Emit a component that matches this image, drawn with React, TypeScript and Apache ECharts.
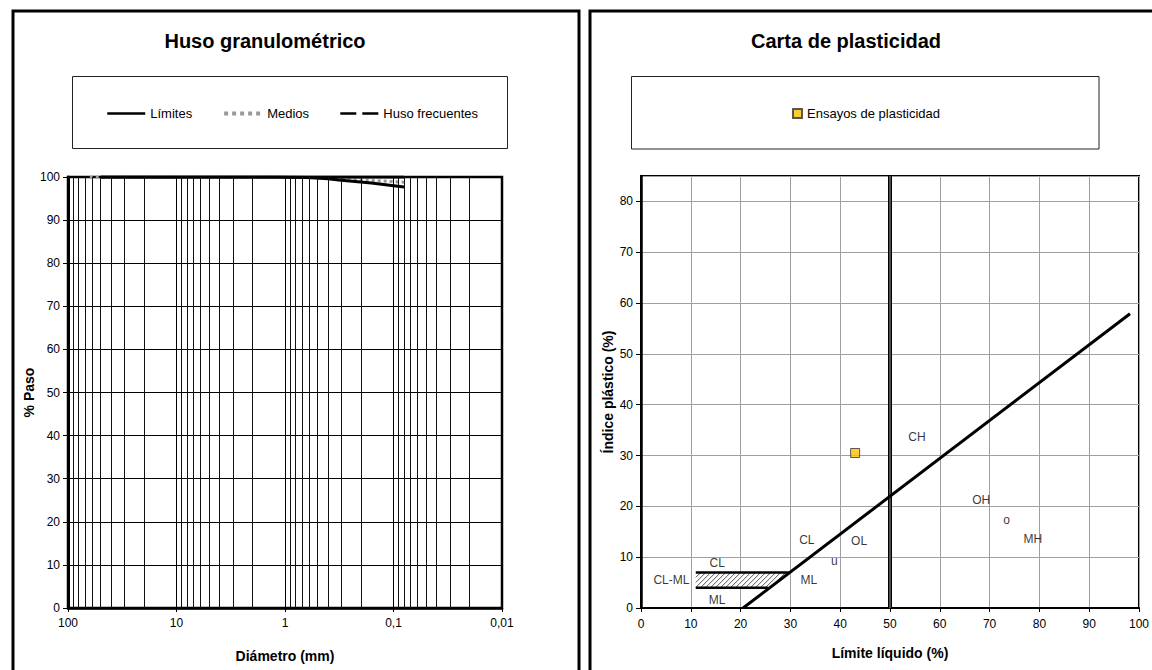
import React, { useEffect, useRef } from 'react';
import * as echarts from 'echarts';

// ---------- Huso granulométrico ----------
const sieveSizes = [63, 50, 40, 25, 20, 12.5, 10, 5, 2, 1.25, 0.63, 0.4, 0.32, 0.16, 0.08];
const limiteInferior = [null, 100, 100, 100, 100, 100, 100, 100, 100, 100, 99.9, 99.6, 99.3, 98.6, 97.7];
const limiteSuperior = [null, 100, 100, 100, 100, 100, 100, 100, 100, 100, 100, 100, 100, 100, 100];
const medios = [100, 100, 100, 100, 100, 100, 100, 100, 100, 100, 99.9, 99.8, 99.6, 99.2, 98.8];
const husoFrecuentes: number[][] = [];
const diamTickLabels: Record<string, string> = { '2': '100', '1': '10', '0': '1', '-1': '0,1', '-2': '0,01' };
const decades = [0.01, 0.1, 1, 10];
const minorMultipliers = [2, 3, 4, 5, 6, 7, 8, 9];

// ---------- Carta de plasticidad ----------
const ensayoLL = [43];
const ensayoIP = [30.5];
const lineaA = [[20.5, 0], [98.2, 57.9]];
const limiteLL50 = [[50, 0], [50, 85]];
const clmlSuperior = [[11, 7], [29.7, 7]];
const clmlInferior = [[11, 4], [25.5, 4]];
const clmlZona = [[11, 4], [25.5, 4], [29.7, 7], [11, 7]];
const zonaNombres = ['CL', 'CL-ML', 'ML', 'ML', 'u', 'CL', 'OL', 'CH', 'OH', 'o', 'MH'];
const zonaLL = [15.3, 6.1, 15.3, 33.7, 38.8, 33.3, 43.8, 55.4, 68.3, 73.4, 78.7];
const zonaIP = [8.9, 5.6, 1.5, 5.6, 9.3, 13.3, 13.1, 33.7, 21.3, 17.4, 13.6];

const FONT = '"Liberation Sans", Arial, sans-serif';

function hatchRenderItem(params: any, api: any) {
  const pts = clmlZona.map((p) => api.coord(p));
  const children: any[] = [
    { type: 'polygon', shape: { points: pts }, style: { fill: '#fff', stroke: 'none' } },
  ];
  const xs = pts.map((p: number[]) => p[0]);
  const ys = pts.map((p: number[]) => p[1]);
  const yT = Math.min(...ys), yB = Math.max(...ys);
  const xMin = Math.min(...xs), xMax = Math.max(...xs);
  const cx = xs.reduce((a: number, b: number) => a + b, 0) / xs.length;
  const cy = ys.reduce((a: number, b: number) => a + b, 0) / ys.length;
  const edges = pts.map((P: number[], i: number) => {
    const Q = pts[(i + 1) % pts.length];
    const f = (X: number, Y: number) => (Q[0] - P[0]) * (Y - P[1]) - (Q[1] - P[1]) * (X - P[0]);
    const s = Math.sign(f(cx, cy)) || 1;
    return (X: number, Y: number) => s * f(X, Y);
  });
  for (let c = xMin + yT; c <= xMax + yB; c += 5) {
    const ax = c - yB, ay = yB, bx = c - yT, by = yT;
    let t0 = 0, t1 = 1, ok = true;
    for (const g of edges) {
      const fa = g(ax, ay), fb = g(bx, by);
      if (fa < 0 && fb < 0) { ok = false; break; }
      if (fa < 0) t0 = Math.max(t0, fa / (fa - fb));
      else if (fb < 0) t1 = Math.min(t1, fa / (fa - fb));
    }
    if (!ok || t1 <= t0) continue;
    children.push({
      type: 'line',
      shape: {
        x1: ax + (bx - ax) * t0, y1: ay + (by - ay) * t0,
        x2: ax + (bx - ax) * t1, y2: ay + (by - ay) * t1,
      },
      style: { stroke: '#555', lineWidth: 1 },
    });
  }
  return { type: 'group', children };
}

export default function App() {
  const ref = useRef<HTMLDivElement>(null);
  useEffect(() => {
    if (!ref.current) return;
    const chart = echarts.init(ref.current, null, { renderer: 'svg' });
    const minorPositions: number[] = [];
    decades.forEach((d) => minorMultipliers.forEach((m) => minorPositions.push(d * m)));
    const pair = (xs: number[], ys: (number | null)[]) => xs.map((x, i) => [x, ys[i]]);

    const axisLabelStyle = { color: '#000', fontSize: 12, fontFamily: FONT };
    const nameStyle = { color: '#000', fontSize: 14, fontWeight: 'bold' as const, fontFamily: FONT };

    chart.setOption({
      animation: false,
      backgroundColor: '#fff',
      textStyle: { fontFamily: FONT },
      graphic: [
        { type: 'rect', silent: true, shape: { x: 13, y: 11, width: 566, height: 700 }, style: { fill: 'none', stroke: '#000', lineWidth: 3 } },
        { type: 'rect', silent: true, shape: { x: 590, y: 11, width: 600, height: 700 }, style: { fill: 'none', stroke: '#000', lineWidth: 3 } },
        { type: 'rect', silent: true, shape: { x: 72.5, y: 76.5, width: 435, height: 72 }, style: { fill: 'none', stroke: '#222', lineWidth: 1 } },
        { type: 'rect', silent: true, shape: { x: 631.5, y: 76.5, width: 467.5, height: 72.5 }, style: { fill: 'none', stroke: '#222', lineWidth: 1 } },
        { type: 'text', silent: true, x: 265, y: 41, style: { text: 'Huso granulométrico', fill: '#000', font: `bold 20px ${FONT}`, align: 'center', verticalAlign: 'middle' } },
        { type: 'text', silent: true, x: 846, y: 41, style: { text: 'Carta de plasticidad', fill: '#000', font: `bold 20px ${FONT}`, align: 'center', verticalAlign: 'middle' } },
      ],
      legend: [
        {
          data: [
            { name: 'Límites', lineStyle: { width: 2.5 } },
            { name: 'Medios', lineStyle: { width: 4 } },
            { name: 'Huso frecuentes', lineStyle: { width: 2.5 } },
          ],
          left: 101, top: 102, itemWidth: 38, itemHeight: 14, itemGap: 30,
          selectedMode: false,
          itemStyle: { color: 'rgba(0,0,0,0)', borderWidth: 0, opacity: 0 },
          textStyle: { color: '#000', fontSize: 13, fontFamily: FONT },
        },
        {
          data: ['Ensayos de plasticidad'],
          left: 787, top: 102, itemWidth: 9, itemHeight: 9,
          selectedMode: false,
          textStyle: { color: '#000', fontSize: 13, fontFamily: FONT },
        },
      ],
      grid: [
        { left: 68, top: 177, width: 434, height: 431, show: true, borderColor: '#000', borderWidth: 2.5, backgroundColor: '#fff' },
        { left: 641, top: 176, width: 502, height: 432, show: true, borderColor: '#000', borderWidth: 2, backgroundColor: '#fff' },
      ],
      xAxis: [
        {
          gridIndex: 0, type: 'log', logBase: 10, min: 0.01, max: 100, inverse: true,
          name: 'Diámetro (mm)', nameLocation: 'middle', nameGap: 41, nameTextStyle: nameStyle,
          axisLine: { show: true, lineStyle: { color: '#000', width: 2.5 } },
          axisTick: { show: true, length: 4, lineStyle: { color: '#000' } },
          axisLabel: {
            ...axisLabelStyle, margin: 9,
            formatter: (v: number) => diamTickLabels[String(Math.round(Math.log10(v)))] ?? '',
          },
          splitLine: { show: true, lineStyle: { color: '#000', width: 1 } },
        },
        {
          gridIndex: 1, type: 'value', min: 0, max: 100, interval: 10,
          name: 'Límite líquido (%)', nameLocation: 'middle', nameGap: 38, nameTextStyle: nameStyle,
          axisLine: { show: true, lineStyle: { color: '#000', width: 2 } },
          axisTick: { show: true, length: 4, lineStyle: { color: '#000' } },
          axisLabel: { ...axisLabelStyle, margin: 10 },
          splitLine: { show: true, lineStyle: { color: '#a0a0a0', width: 1 } },
        },
      ],
      yAxis: [
        {
          gridIndex: 0, type: 'value', min: 0, max: 100, interval: 10,
          name: '% Paso', nameLocation: 'middle', nameGap: 29, nameTextStyle: nameStyle,
          axisLine: { show: true, lineStyle: { color: '#000', width: 3 } },
          axisTick: { show: true, length: 5, lineStyle: { color: '#000' } },
          axisLabel: { ...axisLabelStyle, margin: 8 },
          splitLine: { show: true, lineStyle: { color: '#000', width: 1 } },
        },
        {
          gridIndex: 1, type: 'value', min: 0, max: 85, interval: 10,
          name: 'Índice plástico (%)', nameLocation: 'middle', nameGap: 26, nameTextStyle: nameStyle,
          axisLine: { show: true, lineStyle: { color: '#000', width: 2.5 } },
          axisTick: { show: true, length: 5, lineStyle: { color: '#000' } },
          axisLabel: { ...axisLabelStyle, margin: 8, showMaxLabel: false },
          splitLine: { show: true, lineStyle: { color: '#a0a0a0', width: 1 } },
        },
      ],
      series: [
        {
          name: 'minorGrid', type: 'line', xAxisIndex: 0, yAxisIndex: 0, data: [], z: 1,
          markLine: {
            silent: true, symbol: ['none', 'none'], label: { show: false },
            lineStyle: { color: '#111', width: 1, type: 'solid' },
            emphasis: { disabled: true },
            data: minorPositions.map((v) => ({ xAxis: v })),
          },
        },
        {
          name: 'Medios', type: 'line', xAxisIndex: 0, yAxisIndex: 0, symbol: 'none', z: 3,
          lineStyle: { color: '#999', width: 3, type: 'dotted' },
          itemStyle: { color: '#999' },
          data: pair(sieveSizes, medios),
        },
        {
          name: 'Límites', type: 'line', xAxisIndex: 0, yAxisIndex: 0, symbol: 'none', z: 4,
          lineStyle: { color: '#000', width: 3 }, itemStyle: { color: '#000' },
          data: pair(sieveSizes, limiteInferior),
        },
        {
          name: 'Límites', type: 'line', xAxisIndex: 0, yAxisIndex: 0, symbol: 'none', z: 4,
          lineStyle: { color: '#000', width: 3 }, itemStyle: { color: '#000' },
          data: pair(sieveSizes, limiteSuperior),
        },
        {
          name: 'Huso frecuentes', type: 'line', xAxisIndex: 0, yAxisIndex: 0, symbol: 'none', z: 4,
          lineStyle: { color: '#000', width: 2, type: [16, 6] }, itemStyle: { color: '#000' },
          data: husoFrecuentes,
        },
        // ---- plasticity chart ----
        {
          name: 'CL-ML zona', type: 'custom', xAxisIndex: 1, yAxisIndex: 1, z: 2, silent: true,
          renderItem: hatchRenderItem, data: [clmlZona[0]],
        },
        {
          name: 'Límite LL50', type: 'line', xAxisIndex: 1, yAxisIndex: 1, symbol: 'none', z: 3, silent: true,
          lineStyle: { color: '#000', width: 4 }, data: limiteLL50,
        },
        {
          name: 'Límite LL50 interior', type: 'line', xAxisIndex: 1, yAxisIndex: 1, symbol: 'none', z: 3, silent: true,
          lineStyle: { color: '#999', width: 1 }, data: limiteLL50,
        },
        {
          name: 'Línea A', type: 'line', xAxisIndex: 1, yAxisIndex: 1, symbol: 'none', z: 3, silent: true,
          lineStyle: { color: '#000', width: 3 }, data: lineaA,
        },
        {
          name: 'CL-ML sup', type: 'line', xAxisIndex: 1, yAxisIndex: 1, symbol: 'none', z: 3, silent: true,
          lineStyle: { color: '#000', width: 2.5 }, data: clmlSuperior,
        },
        {
          name: 'CL-ML inf', type: 'line', xAxisIndex: 1, yAxisIndex: 1, symbol: 'none', z: 3, silent: true,
          lineStyle: { color: '#000', width: 2.5 }, data: clmlInferior,
        },
        {
          name: 'Zonas', type: 'scatter', xAxisIndex: 1, yAxisIndex: 1, z: 4, silent: true,
          symbolSize: 1, itemStyle: { color: 'rgba(0,0,0,0)' },
          label: { show: true, position: 'inside', formatter: '{b}', color: '#000', fontSize: 12, fontFamily: FONT },
          data: zonaNombres.map((n, i) => ({ name: n, value: [zonaLL[i], zonaIP[i]] })),
        },
        {
          name: 'Ensayos de plasticidad', type: 'scatter', xAxisIndex: 1, yAxisIndex: 1, z: 5,
          symbol: 'rect', symbolSize: 9,
          itemStyle: { color: '#FFC000', borderColor: '#333', borderWidth: 1 },
          data: pair(ensayoLL, ensayoIP),
        },
      ],
    });
    return () => chart.dispose();
  }, []);
  return (
    <div
      ref={ref}
      style={{ position: 'fixed', left: 0, top: 0, width: 1152, height: 670, background: '#fff' }}
    />
  );
}
